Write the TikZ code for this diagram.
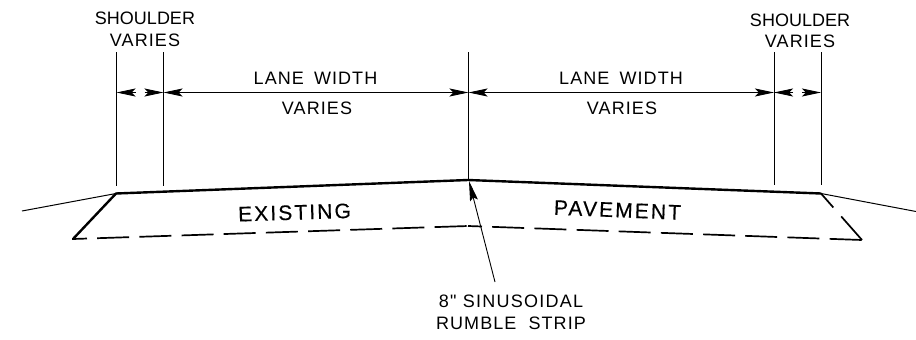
\documentclass[tikz,border=0pt]{standalone}
\usepackage{fontspec}
\newfontfamily\cadfont{Liberation Sans}
\newfontfamily\cadspaced[LetterSpace=6]{Liberation Sans}
\newfontfamily\cadleader[LetterSpace=7]{Liberation Sans}
\newfontfamily\cadmatl[LetterSpace=10,FakeBold=0.3]{Liberation Sans}
\usetikzlibrary{arrows.meta}

\begin{document}
\begin{tikzpicture}[
    x=1pt, y=-1pt,
    dimline/.style={line width=0.9pt, {Stealth[length=19pt,width=8pt,inset=4pt]}-{Stealth[length=19pt,width=8pt,inset=4pt]}},
    dimtip/.style={line width=0.9pt, -{Stealth[length=19pt,width=8pt,inset=4pt]}},
    extline/.style={line width=0.9pt},
    slab/.style={line width=2.4pt, line cap=round},
    hidden/.style={line width=1.7pt, dash pattern=on 32pt off 10.2pt, dash phase=18pt},
    hiddenedge/.style={line width=1.7pt, dash pattern=on 18.6pt off 12pt on 50pt off 1pt},
    slope/.style={line width=1pt},
    leader/.style={line width=0.9pt, -{Stealth[length=20pt,width=8pt,inset=3pt]}},
    dimtext/.style={inner sep=0pt, font=\fontsize{18}{18}\selectfont\cadfont},
    varytext/.style={inner sep=0pt, font=\fontsize{18}{18}\selectfont\cadspaced},
    leadtext/.style={inner sep=0pt, font=\fontsize{18}{18}\selectfont\cadleader},
    matltext/.style={inner sep=0pt, font=\fontsize{21}{21}\selectfont\cadmatl}
]
\useasboundingbox (0,0) rectangle (916,340);

% surface points
\coordinate (edgeL) at (116,193.5);
\coordinate (crown) at (468,180);
\coordinate (edgeR) at (821,193.5);
\coordinate (slopeL) at (22,211);
\coordinate (slopeR) at (916,211.5);
\coordinate (baseL) at (73,239);
\coordinate (baseM) at (468,226);
\coordinate (baseR) at (862,240);

% surface and pavement
\draw [slab] (edgeL) -- (crown) -- (edgeR);
\draw [slope] (slopeL) -- (edgeL);
\draw [slope] (edgeR) -- (slopeR);
\draw [slab] (edgeL) -- (baseL);
\draw [hidden] (baseL) -- (baseM);
\draw [hidden] (baseM) -- (baseR);
\draw [hiddenedge] (edgeR) -- (baseR);

% extension lines
\foreach \nm/\xx/\yy in {a/116.5/186, b/163.5/186, c/468.5/180, d/774/185, e/821/185} {
    \coordinate (top\nm) at (\xx,52);
    \coordinate (bot\nm) at (\xx,\yy);
    \coordinate (dim\nm) at (\xx,92.5);
    \draw [extline] (top\nm) -- (bot\nm);
}

% dimensions
\coordinate (tailA) at (135.5,92.5);
\coordinate (tailB) at (144.5,92.5);
\coordinate (tailD) at (793,92.5);
\coordinate (tailE) at (802,92.5);
\draw [dimtip] (tailA) -- (dima);
\draw [dimtip] (tailB) -- (dimb);
\draw [dimline] (dimb) -- (dimc);
\draw [dimline] (dimc) -- (dimd);
\draw [dimtip] (tailD) -- (dimd);
\draw [dimtip] (tailE) -- (dime);

% labels
\node (shoulderL) [dimtext] at (145,18) {SHOULDER};
\node (variesL) [varytext] at (145,40) {VARIES};
\node (shoulderR) [dimtext] at (800,20) {SHOULDER};
\node (variesR) [varytext] at (800,41) {VARIES};
\node (laneL) [varytext] at (315.5,78) {LANE\hspace{4pt} WIDTH};
\node (laneVarL) [varytext] at (317,108) {VARIES};
\node (laneR) [varytext] at (621,78) {LANE\hspace{4pt} WIDTH};
\node (laneVarR) [varytext] at (622,108) {VARIES};
\node (existing) [matltext, rotate=1.8] at (294.5,212.5) {EXISTING};
\node (pavement) [matltext, rotate=-2.3] at (617.5,210) {PAVEMENT};
\node (rumbleA) [leadtext] at (511,301) {8" SINUSOIDAL};
\node (rumbleB) [varytext] at (511,323) {RUMBLE\hspace{6pt} STRIP};

% leader
\coordinate (leadTail) at (495,282);
\coordinate (leadTip) at (469,181);
\draw [leader] (leadTail) -- (leadTip);

\end{tikzpicture}
\end{document}
